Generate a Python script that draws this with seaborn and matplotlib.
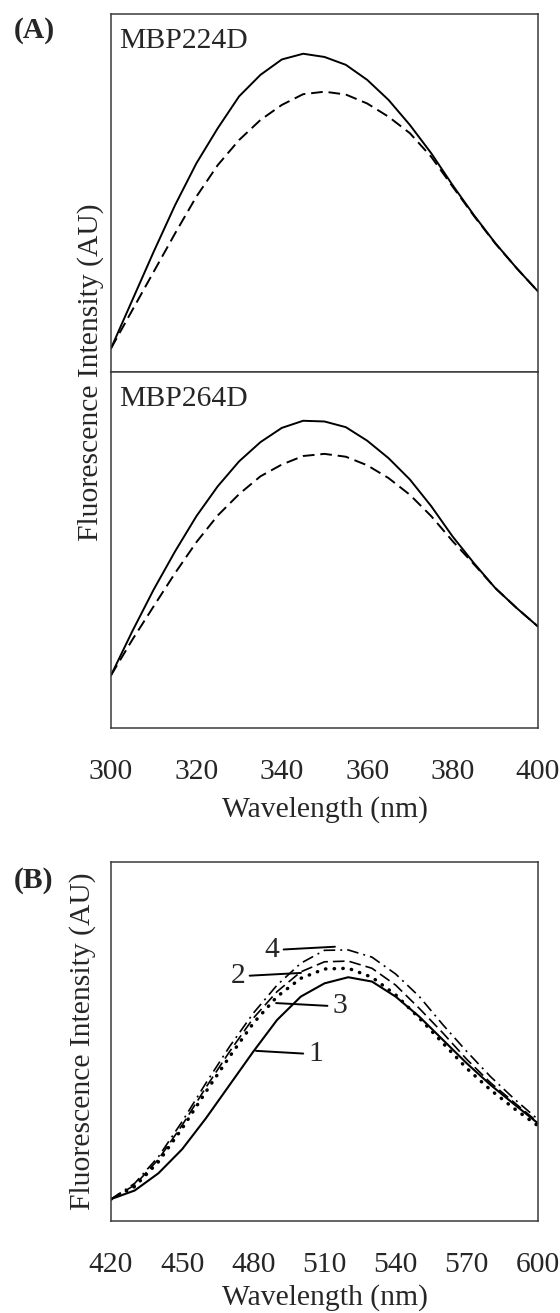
import matplotlib
matplotlib.use("Agg")
import matplotlib.pyplot as plt
import seaborn as sns
import pandas as pd

# -------------------------
# Panel A: emission spectra (AU), every 5 nm
# -------------------------
wl_a = list(range(300, 401, 5))
mbp224d_solid = [6.6, 20.1, 33.6, 46.6, 58.3, 68.1, 77.0, 83.0, 87.3, 88.9, 88.0,
                 85.8, 81.6, 76.0, 69.0, 61.1, 52.2, 43.8, 36.0, 29.0, 22.5]
mbp224d_dash = [6.6, 17.3, 28.0, 38.7, 49.0, 57.8, 64.8, 70.4, 74.6, 77.6, 78.3,
                77.5, 75.0, 71.3, 66.7, 60.1, 51.8, 43.6, 35.9, 29.0, 22.5]
mbp264d_solid = [14.8, 27.2, 38.9, 49.6, 59.5, 67.9, 74.9, 80.3, 84.3, 86.3, 86.1,
                 84.5, 80.7, 75.8, 69.8, 62.3, 53.8, 46.3, 39.3, 33.7, 28.5]
mbp264d_dash = [14.8, 24.8, 34.2, 43.5, 52.2, 59.7, 65.7, 70.7, 74.0, 76.4, 77.0,
                76.2, 73.8, 70.2, 65.5, 59.5, 52.5, 46.0, 39.3, 33.7, 28.5]
panel_a_names = ["MBP224D", "MBP264D"]

# -------------------------
# Panel B: four spectra (AU), every 10 nm
# -------------------------
wl_b = list(range(420, 601, 10))
b_curve1 = [6.1, 8.5, 13.3, 20.0, 28.6, 37.9, 47.2, 56.0, 62.5, 66.2, 67.9,
            66.7, 62.5, 56.9, 50.4, 43.9, 37.9, 32.5, 27.2]
b_curve2 = [6.1, 10.0, 17.2, 26.7, 37.2, 47.2, 56.5, 63.9, 69.4, 72.2, 72.4,
            70.4, 65.7, 59.2, 52.3, 45.0, 38.5, 33.0, 27.5]
b_curve3 = [6.1, 9.6, 16.5, 25.8, 36.0, 45.8, 55.1, 62.5, 67.6, 70.2, 70.4,
            67.9, 63.0, 56.5, 49.5, 42.5, 36.5, 31.3, 26.5]
b_curve4 = [6.1, 10.5, 17.9, 27.7, 38.4, 48.6, 57.9, 65.7, 71.8, 75.4, 75.5,
            73.5, 68.8, 62.5, 54.6, 47.2, 40.2, 34.0, 28.3]
b_labels = ["1", "2", "3", "4"]

sns.set_style("white")
plt.rcParams['font.family'] = ['Liberation Serif', 'DejaVu Serif']
FS = 21.3
SPINE = '#3a3a3a'
TICK = '#9a9a9a'

fig = plt.figure(figsize=(5.6, 13.13), dpi=100)
W, H = 560, 1313


def add_ax(left, top, right, bottom):
    return fig.add_axes([left / W, 1 - bottom / H, (right - left) / W, (bottom - top) / H])


def style_ax(ax, xlim, xticks, direction, show_labels):
    ax.set_xlim(*xlim)
    ax.set_ylim(0, 100)
    ax.set_xticks(xticks)
    ax.set_yticks([])
    ax.tick_params(axis='x', direction=direction, length=8, width=1.0, color=TICK,
                   labelsize=FS, pad=14, labelbottom=show_labels)
    for s in ax.spines.values():
        s.set_color(SPINE)
        s.set_linewidth(1.1)
    ax.set_xlabel("")
    ax.set_ylabel("")


ax1 = add_ax(111, 14, 538, 372)
ax2 = add_ax(111, 372, 538, 728)
ax3 = add_ax(111, 862, 538, 1221)

dash_a = (0, (6, 3))
for ax, solid, dash, name in [(ax1, mbp224d_solid, mbp224d_dash, panel_a_names[0]),
                              (ax2, mbp264d_solid, mbp264d_dash, panel_a_names[1])]:
    df = pd.DataFrame({"wl": wl_a, "solid": solid, "dash": dash})
    sns.lineplot(data=df, x="wl", y="solid", ax=ax, color='black', lw=1.4,
                 solid_joinstyle='round')
    sns.lineplot(data=df, x="wl", y="dash", ax=ax, color='black', lw=1.4, linestyle=dash_a)
    ax.text(0.02, 0.905, name, transform=ax.transAxes, fontsize=FS, ha='left', va='baseline')

style_ax(ax1, (300, 400), range(300, 401, 20), 'in', False)
style_ax(ax2, (300, 400), range(300, 401, 20), 'out', True)
ax2.set_xlabel("Wavelength (nm)", fontsize=FS, labelpad=8)

dfb = pd.DataFrame({"wl": wl_b, "1": b_curve1, "2": b_curve2, "3": b_curve3, "4": b_curve4})
b_styles = {
    "1": dict(linestyle='-', lw=1.5, solid_joinstyle='round'),
    "2": dict(linestyle=(0, (7, 3)), lw=1.2),
    "3": dict(linestyle=(0, (0.1, 2.4)), lw=2.5, dash_capstyle='round'),
    "4": dict(linestyle=(0, (7, 3, 1.2, 3)), lw=1.2),
}
for key in b_labels:
    sns.lineplot(data=dfb, x="wl", y=key, ax=ax3, color='black', **b_styles[key])

style_ax(ax3, (420, 600), range(420, 601, 30), 'out', True)
ax3.set_xlabel("Wavelength (nm)", fontsize=FS, labelpad=5)

# curve labels with leader lines
ann = [("4", (490.8, 76.4), (514.4, 76.4), 'right', (1, 0.5)),
       ("2", (476.5, 69.1), (500.1, 69.1), 'right', (1, 0.5)),
       ("3", (513.2, 60.7), (489.6, 60.7), 'left', (0, 0.5)),
       ("1", (503.0, 47.4), (481.1, 47.4), 'left', (0, 0.5))]
for txt, pos, tip, ha, rel in ann:
    ax3.annotate(txt, xy=tip, xytext=pos, fontsize=FS, ha=ha, va='center_baseline',
                 arrowprops=dict(arrowstyle='-', lw=1.4, color='black',
                                 shrinkA=1, shrinkB=0, relpos=rel))

# shared y labels and panel tags
fig.text(104 / W, 1 - 372 / H, "Fluorescence Intensity (AU)", rotation=90,
         ha='right', va='center', fontsize=FS)
fig.text(96 / W, 1 - 1041 / H, "Fluorescence Intensity (AU)", rotation=90,
         ha='right', va='center', fontsize=FS)
fig.text(14 / W, 1 - 30 / H, "(A)", fontsize=FS, fontweight='bold', ha='left', va='center')
fig.text(14 / W, 1 - 880 / H, "(B)", fontsize=FS, fontweight='bold', ha='left', va='center')

fig.savefig("out.png", dpi=100)
